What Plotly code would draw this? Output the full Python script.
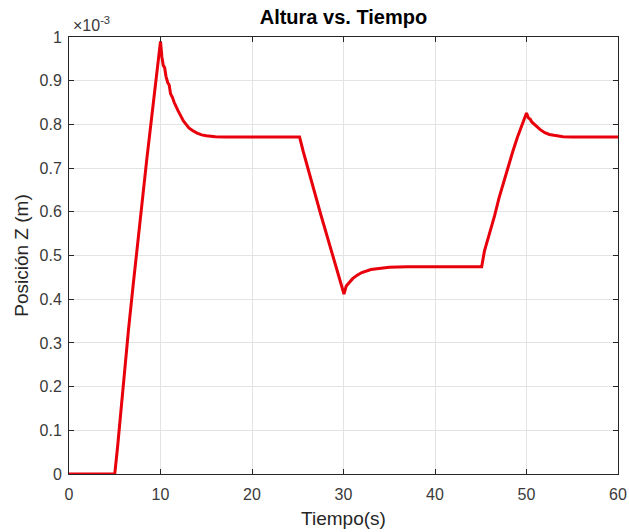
import plotly.graph_objects as go

# time (s) and height (x1e-3 m)
t = [0, 5, 5.3, 5.6, 6, 6.5, 7, 7.5, 8, 8.5, 9, 9.5, 10,
     10.15, 10.3, 10.45, 10.6, 10.8, 10.95, 11.1, 11.3, 11.5, 11.7, 11.9, 12.2, 12.5, 12.8, 13.1,
     13.5, 14, 14.5, 15, 16, 17, 25.2,
     25.6, 27.5, 30.05, 30.3, 30.6, 31, 31.5, 32, 33, 34, 35, 37, 45.1,
     45.4, 45.9, 46.5, 47, 47.5, 48, 48.5, 49, 49.5, 50,
     50.2, 50.4, 50.6, 51, 51.5, 52, 52.5, 53, 54, 55, 60]
z = [0, 0, 0.06, 0.13, 0.22, 0.33, 0.43, 0.53, 0.62, 0.72, 0.81, 0.90, 0.99,
     0.955, 0.935, 0.93, 0.91, 0.895, 0.89, 0.87, 0.862, 0.85, 0.84, 0.832, 0.82, 0.808, 0.80, 0.792,
     0.786, 0.78, 0.776, 0.774, 0.772, 0.771, 0.771,
     0.738, 0.595, 0.412, 0.43, 0.437, 0.447, 0.455, 0.461, 0.468, 0.471, 0.473, 0.474, 0.474,
     0.51, 0.545, 0.59, 0.632, 0.668, 0.705, 0.738, 0.77, 0.80, 0.826,
     0.815, 0.812, 0.805, 0.797, 0.788, 0.781, 0.777, 0.775, 0.772, 0.771, 0.771]

x_ticks = [0, 10, 20, 30, 40, 50, 60]
y_ticks = [0, 0.1, 0.2, 0.3, 0.4, 0.5, 0.6, 0.7, 0.8, 0.9, 1]
y_tick_text = ["0", "0.1", "0.2", "0.3", "0.4", "0.5", "0.6", "0.7", "0.8", "0.9", "1"]

FONT = "Liberation Sans, Arial"
TXT = "#262626"

fig = go.Figure()
fig.add_trace(go.Scatter(x=t, y=z, mode="lines",
                         line=dict(color="#e8000b", width=3), showlegend=False))

axis_common = dict(
    showline=True, linecolor=TXT, linewidth=1, mirror="ticks",
    ticks="inside", ticklen=5, tickcolor=TXT,
    showgrid=True, gridcolor="#e3e3e3", gridwidth=1, zeroline=False,
    tickfont=dict(family=FONT, size=16, color="#3a3a3a"), automargin=False,
)

fig.update_layout(
    width=629, height=532,
    margin=dict(l=69, r=11, t=37, b=58),
    paper_bgcolor="white", plot_bgcolor="white",
    title=dict(text="<b>Altura vs. Tiempo</b>", x=0.546, xanchor="center", y=0.968, yanchor="middle",
               font=dict(family=FONT, size=20, color="black")),
    xaxis=dict(range=[0, 60], tickvals=x_ticks, ticklabelstandoff=6,
               title=dict(text="Tiempo(s)", standoff=9,
                          font=dict(family=FONT, size=19, color=TXT)),
               **axis_common),
    yaxis=dict(range=[0, 1], tickvals=y_ticks, ticktext=y_tick_text, ticklabelstandoff=3,
               title=dict(text="Posición Z (m)", standoff=5,
                          font=dict(family=FONT, size=19, color=TXT)),
               **axis_common),
    annotations=[dict(text="×10<sup>-3</sup>", xref="paper", yref="paper", x=0.0, y=1.0,
                      xanchor="left", yanchor="bottom", showarrow=False, yshift=1, xshift=2,
                      font=dict(family=FONT, size=16, color="#3a3a3a"))],
)

fig.write_html("out.html")
